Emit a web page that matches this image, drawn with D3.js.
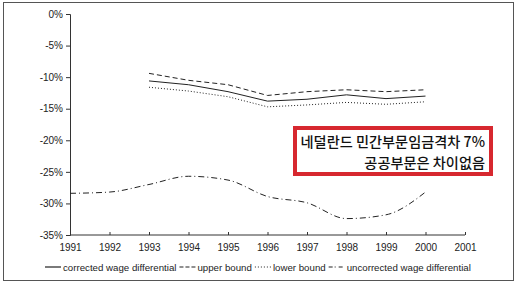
<!DOCTYPE html>
<html>
<head>
<meta charset="utf-8">
<script src="https://cdn.jsdelivr.net/npm/d3@7"></script>
<style>
  body { margin: 0; background: #fff; }
  svg { display: block; font-family: "Liberation Sans", Arial, sans-serif; }
</style>
</head>
<body>
<svg id="chart" width="518" height="285"></svg>
<script>
// values (percent)
const years = [1991, 1992, 1993, 1994, 1995, 1996, 1997, 1998, 1999, 2000];
const corrected = [null, null, -10.6, -11.2, -12.3, -13.8, -13.5, -12.8, -13.4, -13.0];
const upper = [null, null, -9.4, -10.5, -11.2, -12.9, -12.3, -12.0, -12.3, -12.0];
const lower = [null, null, -11.6, -12.2, -13.1, -14.7, -14.4, -14.0, -14.3, -13.9];
const uncorrected = [-28.4, -28.2, -27.0, -25.7, -26.3, -28.9, -29.9, -32.4, -31.8, -28.2];
const yTicks = [0, -5, -10, -15, -20, -25, -30, -35];
const xTicks = [1991, 1992, 1993, 1994, 1995, 1996, 1997, 1998, 1999, 2000, 2001];
const noteLines = ["네덜란드 민간부문임금격차 7%", "공공부문은 차이없음"];

const svg = d3.select("#chart");

// outer frame
svg.append("rect")
    .attr("x", 3.5).attr("y", 2.5)
    .attr("width", 510).attr("height", 278)
    .attr("fill", "none")
    .attr("stroke", "#555")
    .attr("stroke-width", 1);

let x = d3.scaleLinear().domain([1991, 2001]).range([70, 465]);
let y = d3.scaleLinear().domain([0, -35]).range([14, 235]);

// y axis
let yAxis = svg.append("g")
    .attr("transform", "translate(70,0)")
    .call(d3.axisLeft(y).tickValues(yTicks).tickSize(4).tickPadding(3)
        .tickFormat(d => d + "%"));
yAxis.selectAll("text").attr("font-size", 10).attr("fill", "#222");
yAxis.selectAll("line, path").attr("stroke", "#333");

// x axis
let xAxis = svg.append("g")
    .attr("transform", "translate(0,235)")
    .call(d3.axisBottom(x).tickValues(xTicks).tickSize(3).tickPadding(6)
        .tickFormat(d3.format("d")));
xAxis.select(".domain").attr("d", "M70,0H465");
xAxis.selectAll(".tick line").attr("y1", -3).attr("y2", 0);
xAxis.selectAll("text").attr("font-size", 10).attr("fill", "#222");
xAxis.selectAll("line, path").attr("stroke", "#333");

let series = [
    { name: "corrected wage differential", values: corrected, dash: null, curve: d3.curveLinear },
    { name: "upper bound", values: upper, dash: "5,3", curve: d3.curveLinear },
    { name: "lower bound", values: lower, dash: "1,2", curve: d3.curveLinear },
    { name: "uncorrected wage differential", values: uncorrected, dash: "6,3,1,3", curve: d3.curveMonotoneX }
];

series.forEach(s => {
    let line = d3.line()
        .defined(d => d[1] !== null)
        .x(d => x(d[0]))
        .y(d => y(d[1]))
        .curve(s.curve);
    svg.append("path")
        .datum(years.map((yr, i) => [yr, s.values[i]]))
        .attr("fill", "none")
        .attr("stroke", "#222")
        .attr("stroke-width", 1)
        .attr("stroke-dasharray", s.dash)
        .attr("d", line);
});

// legend
let legend = svg.append("g").attr("font-size", 9.7).attr("fill", "#222");
let lx = 45;
series.forEach(s => {
    legend.append("line")
        .attr("x1", lx).attr("x2", lx + 16)
        .attr("y1", 267).attr("y2", 267)
        .attr("stroke", "#222")
        .attr("stroke-width", 1.2)
        .attr("stroke-dasharray", s.dash ? s.dash.replace("6,3", "4,2").replace("5,3", "4,2") : null);
    let t = legend.append("text")
        .attr("x", lx + 18).attr("y", 270.5)
        .text(s.name);
    lx += 18 + t.node().getComputedTextLength() + 3;
});

// red note box
svg.append("rect")
    .attr("x", 295).attr("y", 128)
    .attr("width", 196).attr("height", 46)
    .attr("fill", "#fff")
    .attr("stroke", "#d7282f")
    .attr("stroke-width", 4);

svg.selectAll("text.note")
    .data(noteLines)
    .enter()
    .append("text")
    .attr("class", "note")
    .attr("x", 485)
    .attr("y", (d, i) => 147 + i * 21)
    .attr("text-anchor", "end")
    .attr("font-family", "'Noto Sans CJK KR', sans-serif")
    .attr("font-size", 14.2)
    .attr("font-weight", 500)
    .attr("fill", "#111")
    .text(d => d);
</script>
</body>
</html>
